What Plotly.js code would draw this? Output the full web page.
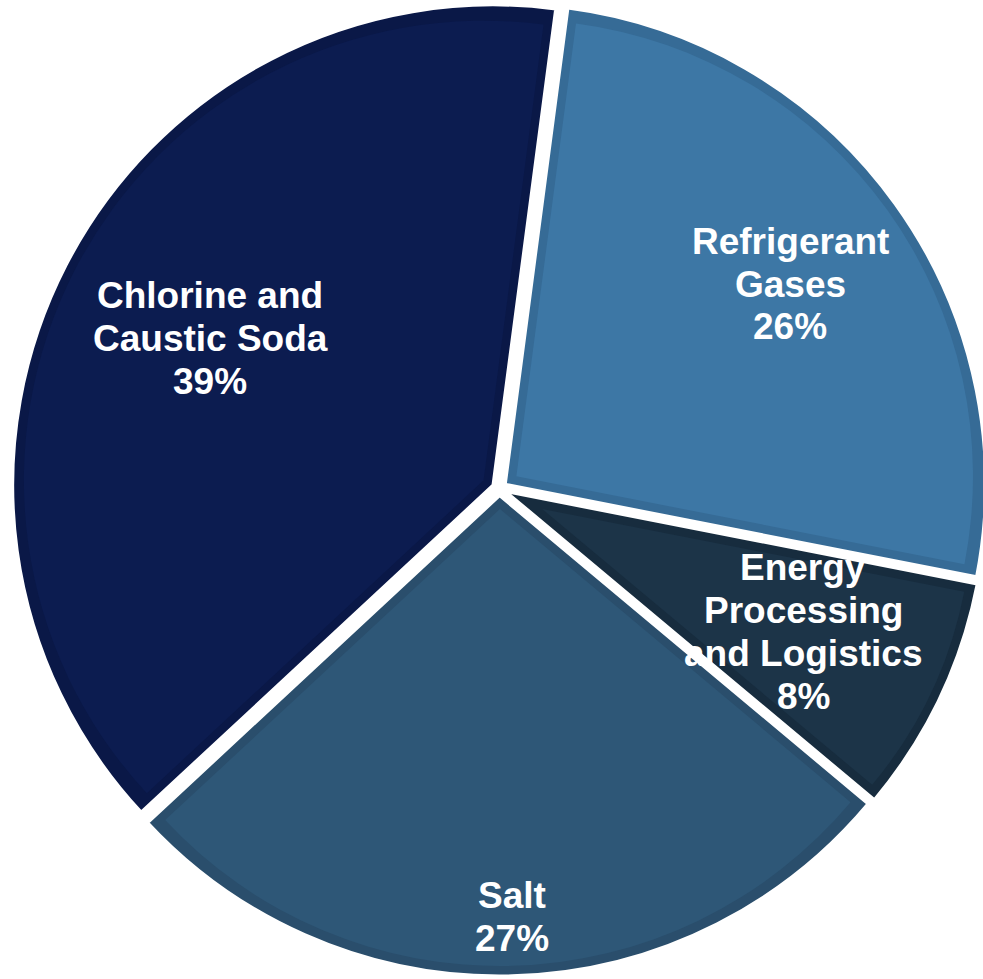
<!DOCTYPE html>
<html>
<head>
<meta charset="utf-8">
<script src="https://cdn.plot.ly/plotly-3.0.1.min.js"></script>
<style>
html,body{margin:0;padding:0;overflow:hidden;background:#fff;}
#chart{width:1000px;height:979px;}
</style>
</head>
<body>
<div id="chart"></div>
<script>
// ---- data ----
const categories = ["Refrigerant Gases", "Energy Processing and Logistics", "Salt", "Chlorine and Caustic Soda"];
const shares = [26, 8, 27, 39];
const labelLines = [
  ["Refrigerant", "Gases"],
  ["Energy", "Processing", "and Logistics"],
  ["Salt"],
  ["Chlorine and", "Caustic Soda"]
];
const mainColors = ["#3d77a5", "#1c3448", "#2e5777", "#0c1c50"];
const edgeColors = ["#366b96", "#172c3e", "#2a4e6c", "#0a1847"];

// ---- layout geometry ----
const W = 1000, H = 979;
const C = {x: 499.4, y: 488.5};
const R = 480.3;
const PULL = 0.015;
const INSET = 10;
const ROT = 7.5;
// label anchor positions (px) per category
const labelPos = [
  {x: 790, y: 241},
  {x: 803, y: 567.5},
  {x: 512, y: 895.5},
  {x: 210, y: 295.5}
];
const LINE_GAP = 43;

function domainFor(cx, cy, r) {
  return {
    x: [(cx - r) / W, (cx + r) / W],
    y: [1 - (cy + r) / H, 1 - (cy - r) / H]
  };
}

const traces = [];
// base pie (edge colour) with small explode
traces.push({
  type: "pie",
  labels: categories,
  values: shares,
  sort: false,
  direction: "clockwise",
  rotation: ROT,
  pull: shares.map(() => PULL),
  marker: {colors: edgeColors, line: {color: "#ffffff", width: 3}},
  textinfo: "none",
  hoverinfo: "label+percent",
  showlegend: false,
  domain: domainFor(C.x, C.y, R * (1 + PULL))
});

// inset face of each slice
const total = shares.reduce((a, b) => a + b, 0);
let cum = 0;
shares.forEach((v, i) => {
  const start = ROT + 360 * cum / total;
  const span = 360 * v / total;
  cum += v;
  const mid = (start + span / 2) * Math.PI / 180;
  const half = (span / 2) * Math.PI / 180;
  const s = INSET / Math.sin(half);
  const ux = Math.sin(mid), uy = -Math.cos(mid);
  const ox = C.x + (PULL * R + s) * ux;
  const oy = C.y + (PULL * R + s) * uy;
  const ri = R - INSET - s;
  traces.push({
    type: "pie",
    labels: categories,
    values: shares,
    sort: false,
    direction: "clockwise",
    rotation: ROT,
    marker: {
      colors: shares.map((_, j) => j === i ? mainColors[i] : "rgba(0,0,0,0)"),
      line: {width: 0}
    },
    textinfo: "none",
    hoverinfo: "skip",
    showlegend: false,
    domain: domainFor(ox, oy, ri)
  });
});

// labels
const annotations = [];
categories.forEach((c, i) => {
  const lines = labelLines[i].concat([shares[i] + "%"]);
  lines.forEach((t, k) => {
    annotations.push({
      xref: "paper", yref: "paper",
      x: labelPos[i].x / W,
      y: 1 - (labelPos[i].y + k * LINE_GAP) / H,
      xanchor: "center", yanchor: "middle",
      text: t, showarrow: false,
      font: {family: "Liberation Sans, Arial, sans-serif", size: 37, color: "#ffffff", weight: "bold"}
    });
  });
});

Plotly.newPlot("chart", traces, {
  width: W, height: H,
  margin: {l: 0, r: 0, t: 0, b: 0, pad: 0},
  paper_bgcolor: "#ffffff",
  plot_bgcolor: "#ffffff",
  showlegend: false,
  annotations: annotations
}, {displayModeBar: false, staticPlot: true});
</script>
</body>
</html>
